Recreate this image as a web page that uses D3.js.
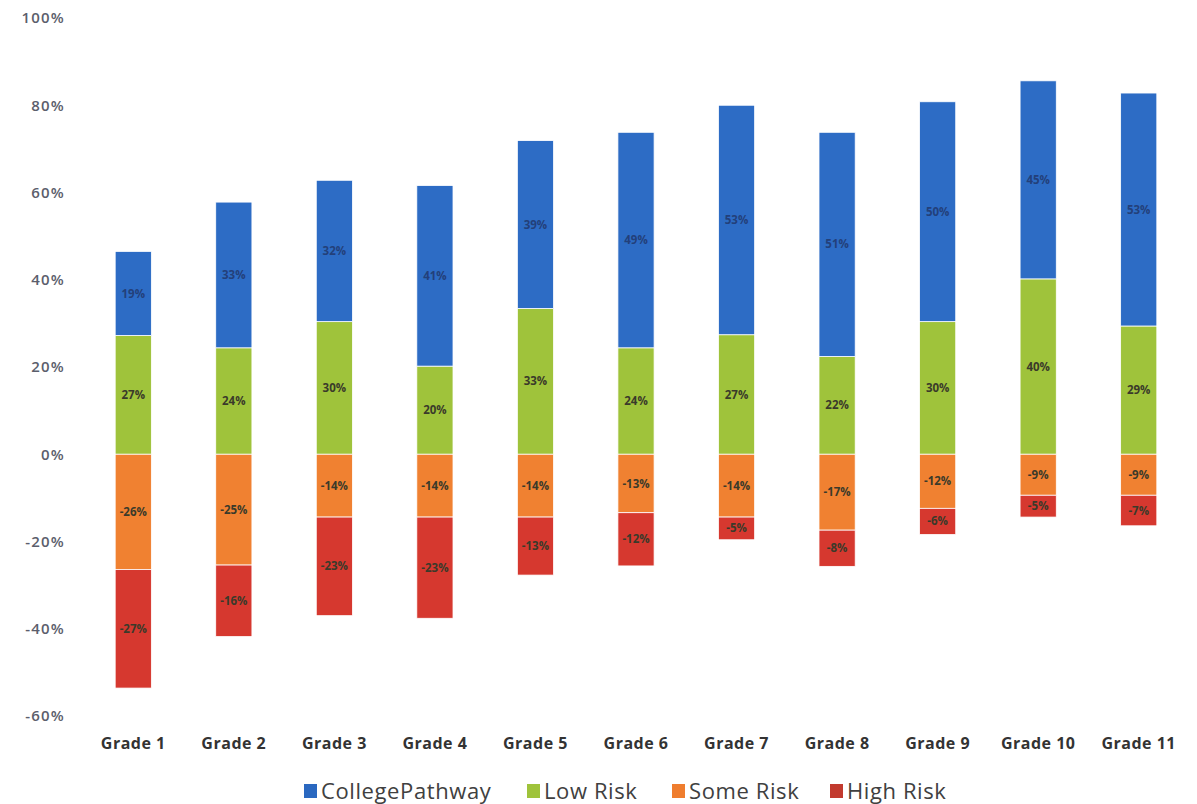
<!DOCTYPE html>
<html>
<head>
<meta charset="utf-8">
<script src="https://cdn.jsdelivr.net/npm/d3@7"></script>
<style>
  body { margin: 0; background: #fff; }
  svg { font-family: "Open Sans", Lato, sans-serif; }
</style>
</head>
<body>
<svg id="chart" width="1197" height="804"></svg>
<script>
// values (percent)
const grades = ['Grade 1', 'Grade 2', 'Grade 3', 'Grade 4', 'Grade 5', 'Grade 6',
  'Grade 7', 'Grade 8', 'Grade 9', 'Grade 10', 'Grade 11'];
const collegePathway = [19.3, 33.4, 32.4, 41.4, 38.5, 49.4, 52.6, 51.4, 50.4, 45.4, 53.4];
const lowRisk = [27.2, 24.4, 30.4, 20.2, 33.4, 24.4, 27.4, 22.4, 30.4, 40.2, 29.4];
const someRisk = [-26.4, -25.4, -14.4, -14.4, -14.4, -13.4, -14.4, -17.4, -12.4, -9.4, -9.4];
const highRisk = [-27.2, -16.4, -22.6, -23.2, -13.3, -12.2, -5.2, -8.3, -6.0, -5.0, -7.0];
const yTicks = [-60, -40, -20, 0, 20, 40, 60, 80, 100];

const seriesNames = ['CollegePathway', 'Low Risk', 'Some Risk', 'High Risk'];
const seriesColors = ['#2d6cc5', '#9fc33b', '#f08131', '#d6382f'];
const legendColors = ['#2a68c0', '#9fc33b', '#ef7d2e', '#c23a2e'];

const svg = d3.select('#chart');

const x = d3.scaleBand()
  .domain(grades)
  .range([83, 1189])
  .paddingInner(0.64)
  .paddingOuter(0.32);

const y = d3.scaleLinear()
  .domain([-60, 100])
  .range([716, 18]);

// low risk + college pathway stack up from 0, some + high risk stack down
const segments = [];
grades.forEach((g, i) => {
  let pos = 0, neg = 0;
  const lr = lowRisk[i], cp = collegePathway[i];
  segments.push({ g, s: 1, v: lr, y0: pos, y1: pos + lr }); pos += lr;
  segments.push({ g, s: 0, v: cp, y0: pos, y1: pos + cp }); pos += cp;
  const sr = someRisk[i], hr = highRisk[i];
  segments.push({ g, s: 2, v: sr, y0: neg, y1: neg + sr }); neg += sr;
  segments.push({ g, s: 3, v: hr, y0: neg, y1: neg + hr }); neg += hr;
});

const $bars = svg.append('g').attr('class', 'bars');
$bars.selectAll('rect')
  .data(segments)
  .enter()
  .append('rect')
  .attr('x', d => x(d.g))
  .attr('width', x.bandwidth())
  .attr('y', d => Math.min(y(d.y0), y(d.y1)))
  .attr('height', d => Math.abs(y(d.y0) - y(d.y1)))
  .attr('fill', d => seriesColors[d.s])
  .attr('stroke', '#fff')
  .attr('stroke-width', 0.8);

const fmt = v => Math.round(v) + '%';

$bars.selectAll('text')
  .data(segments)
  .enter()
  .append('text')
  .attr('x', d => x(d.g) + x.bandwidth() / 2)
  .attr('y', d => y((d.y0 + d.y1) / 2))
  .attr('dy', '0.35em')
  .attr('text-anchor', 'middle')
  .attr('font-size', 11.5)
  .attr('font-weight', 'bold')
  .attr('fill', d => d.s === 0 ? '#23407a' : '#3a3a2a')
  .text(d => fmt(d.v));

// y axis, labels only
const yAxis = d3.axisLeft(y)
  .tickValues(yTicks)
  .tickFormat(d => d + '%')
  .tickSize(0)
  .tickPadding(0);

svg.append('g')
  .attr('transform', 'translate(65,0)')
  .call(yAxis)
  .call(g => g.select('.domain').remove())
  .call(g => g.selectAll('text')
    .attr('font-family', '"Open Sans", sans-serif')
    .attr('font-size', 15)
    .attr('font-weight', 600)
    .attr('letter-spacing', 1.2)
    .attr('fill', '#5b5e6c'));

// x axis, labels only
const xAxis = d3.axisBottom(x).tickSize(0).tickPadding(0);

svg.append('g')
  .attr('transform', 'translate(0,738)')
  .call(xAxis)
  .call(g => g.select('.domain').remove())
  .call(g => g.selectAll('text')
    .attr('font-family', '"Open Sans", sans-serif')
    .attr('font-size', 16)
    .attr('font-weight', 'bold')
    .attr('letter-spacing', 0.5)
    .attr('fill', '#333'));

// legend
const legendX = [304, 527, 672, 830];
const $legend = svg.append('g').attr('class', 'legend');
seriesNames.forEach((name, i) => {
  const $item = $legend.append('g').attr('transform', `translate(${legendX[i]},791)`);
  $item.append('rect')
    .attr('x', 0).attr('y', -7)
    .attr('width', 13).attr('height', 14)
    .attr('fill', legendColors[i]);
  $item.append('text')
    .attr('x', 17)
    .attr('dy', '0.35em')
    .attr('font-size', 22)
    .attr('letter-spacing', 0.6)
    .attr('fill', '#404040')
    .text(name);
});
</script>
</body>
</html>
